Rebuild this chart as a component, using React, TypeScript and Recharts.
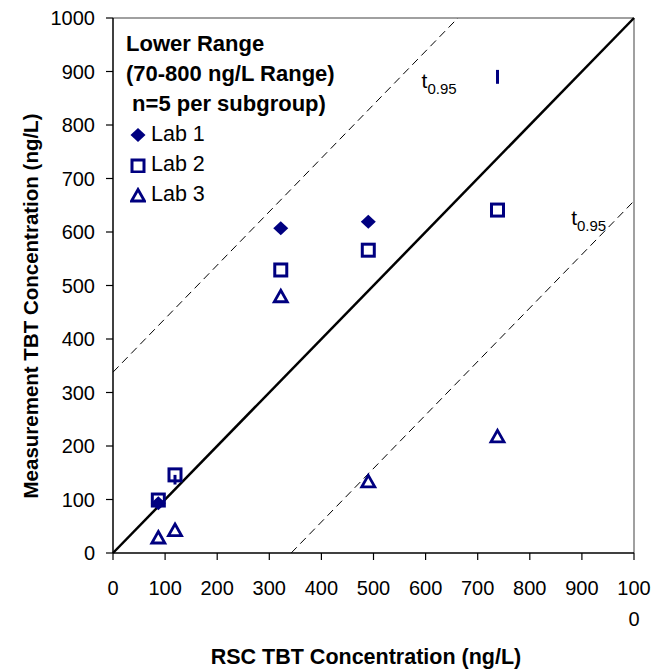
import React from 'react';
import {
  ScatterChart,
  Scatter,
  XAxis,
  YAxis,
  ReferenceLine,
  ReferenceDot,
  Legend,
  Label,
} from 'recharts';

// ---- data ----
const lab1 = [
  { x: 87, y: 93 },
  { x: 322, y: 607 },
  { x: 490, y: 619 },
];
const lab2 = [
  { x: 87, y: 99 },
  { x: 119, y: 146 },
  { x: 322, y: 529 },
  { x: 490, y: 566 },
  { x: 738, y: 641 },
];
const lab3 = [
  { x: 87, y: 28 },
  { x: 119, y: 42 },
  { x: 322, y: 479 },
  { x: 490, y: 133 },
  { x: 738, y: 217 },
];
// small error-bar fragments visible in the picture
const errorSegments = [
  [{ x: 119, y: 146 }, { x: 119, y: 128 }],
  [{ x: 738, y: 877 }, { x: 738, y: 903 }],
];
const identityLine = [{ x: 0, y: 0 }, { x: 1000, y: 1000 }];
const upperLimit = [{ x: 0, y: 338 }, { x: 662, y: 1000 }];
const lowerLimit = [{ x: 342, y: 0 }, { x: 1000, y: 658 }];
const tLabels = [
  { x: 600, y: 882 },
  { x: 887, y: 627 },
];
const xTicks = [0, 100, 200, 300, 400, 500, 600, 700, 800, 900, 1000];
const yTicks = [0, 100, 200, 300, 400, 500, 600, 700, 800, 900, 1000];
const legendTitle = ['Lower Range', '(70-800 ng/L Range)', '\u00a0n=5 per subgroup)'];
const legendItems = ['Lab 1', 'Lab 2', 'Lab 3'];

const NAVY = '#000080';
const FONT = '"Liberation Sans", Arial, sans-serif';

const Diamond = (p: any) => (
  <polygon
    points={`${p.cx},${p.cy - 7} ${p.cx + 7.5},${p.cy} ${p.cx},${p.cy + 7} ${p.cx - 7.5},${p.cy}`}
    fill={NAVY}
  />
);
const Square = (p: any) => (
  <rect x={p.cx - 6} y={p.cy - 6} width={12} height={12} fill="none" stroke={NAVY} strokeWidth={3} />
);
const Triangle = (p: any) => (
  <polygon
    points={`${p.cx},${p.cy - 6.5} ${p.cx + 6.5},${p.cy + 5} ${p.cx - 6.5},${p.cy + 5}`}
    fill="none"
    stroke={NAVY}
    strokeWidth={2.8}
    strokeLinejoin="miter"
  />
);

const XTick = (props: any) => {
  const { x, y, payload } = props;
  const s = String(payload.value);
  const lines = s.length > 3 ? [s.slice(0, 3), s.slice(3)] : [s];
  return (
    <text x={x} y={y} textAnchor="middle" fill="#000" fontSize={20} fontFamily={FONT}>
      {lines.map((l, i) => (
        <tspan key={i} x={x} dy={i === 0 ? 15 : 31}>
          {l}
        </tspan>
      ))}
    </text>
  );
};

const TLabel = (props: any) => {
  const { viewBox } = props;
  const cx = viewBox.x + viewBox.width / 2;
  const cy = viewBox.y + viewBox.height / 2;
  return (
    <text x={cx - 4} y={cy + 7} fontSize={21} fontFamily={FONT} fill="#000">
      t
      <tspan fontSize={15} dy={6}>
        0.95
      </tspan>
    </text>
  );
};

const LegendIcon = ({ i }: { i: number }) => (
  <svg width={16} height={16} style={{ verticalAlign: 'middle', marginRight: 5, marginLeft: 4 }}>
    {i === 0 && <Diamond cx={8} cy={8} />}
    {i === 1 && <Square cx={8} cy={9} />}
    {i === 2 && <Triangle cx={8} cy={9} />}
  </svg>
);

const LegendContent = () => (
  <div style={{ fontFamily: FONT, color: '#000', lineHeight: '30px' }}>
    {legendTitle.map((t, i) => (
      <div key={i} style={{ fontWeight: 'bold', fontSize: 22, whiteSpace: 'pre' }}>
        {t}
      </div>
    ))}
    {legendItems.map((t, i) => (
      <div key={t} style={{ fontSize: 21.5, whiteSpace: 'pre' }}>
        <LegendIcon i={i} />
        {t}
      </div>
    ))}
  </div>
);

export default function App() {
  return (
    <div style={{ position: 'absolute', left: 0, top: 0, background: '#fff' }}>
      <ScatterChart
        width={653}
        height={671}
        margin={{ top: 18, right: 19, bottom: 0, left: 0 }}
      >
        <XAxis
          type="number"
          dataKey="x"
          domain={[0, 1000]}
          ticks={xTicks}
          interval={0}
          height={118}
          tickSize={7}
          tickMargin={20}
          tick={<XTick />}
          axisLine={{ stroke: '#000', strokeWidth: 1.5 }}
          tickLine={{ stroke: '#000', strokeWidth: 1.2 }}
        >
          <Label
            value="RSC TBT Concentration (ng/L)"
            content={() => (
              <text
                x={366}
                y={664}
                textAnchor="middle"
                fontSize={21.5}
                fontWeight="bold"
                fontFamily={FONT}
                fill="#000"
              >
                RSC TBT Concentration (ng/L)
              </text>
            )}
          />
        </XAxis>
        <YAxis
          type="number"
          dataKey="y"
          domain={[0, 1000]}
          ticks={yTicks}
          interval={0}
          width={113}
          tickSize={7}
          tickMargin={11}
          tick={{ fill: '#000', fontSize: 20, fontFamily: FONT }}
          axisLine={{ stroke: '#000', strokeWidth: 1.5 }}
          tickLine={{ stroke: '#000', strokeWidth: 1.2 }}
        >
          <Label
            value="Measurement TBT Concentration (ng/L)"
            content={() => (
              <text
                x={38}
                y={306}
                transform="rotate(-90 38 306)"
                textAnchor="middle"
                fontSize={20.5}
                fontWeight="bold"
                fontFamily={FONT}
                fill="#000"
              >
                Measurement TBT Concentration (ng/L)
              </text>
            )}
          />
        </YAxis>
        <ReferenceLine y={1000} stroke="#808080" strokeWidth={1.5} />
        <ReferenceLine x={1000} stroke="#808080" strokeWidth={1.5} />
        <ReferenceLine segment={upperLimit} stroke="#000" strokeWidth={1} strokeDasharray="8 5" ifOverflow="visible" />
        <ReferenceLine segment={lowerLimit} stroke="#000" strokeWidth={1} strokeDasharray="8 5" ifOverflow="visible" />
        <ReferenceLine segment={identityLine} stroke="#000" strokeWidth={2.5} ifOverflow="visible" />
        {errorSegments.map((s, i) => (
          <ReferenceLine key={i} segment={s} stroke={NAVY} strokeWidth={3} ifOverflow="visible" />
        ))}
        {tLabels.map((t, i) => (
          <ReferenceDot key={i} x={t.x} y={t.y} r={0} fill="none" stroke="none" label={<TLabel />} />
        ))}
        <Scatter name="Lab 3" data={lab3} shape={Triangle} isAnimationActive={false} />
        <Scatter name="Lab 2" data={lab2} shape={Square} isAnimationActive={false} />
        <Scatter name="Lab 1" data={lab1} shape={Diamond} isAnimationActive={false} />
        <Legend
          layout="vertical"
          align="center"
          verticalAlign="middle"
          content={<LegendContent />}
          wrapperStyle={{ top: 29, left: 126, width: 260, height: 180 }}
        />
      </ScatterChart>
    </div>
  );
}
